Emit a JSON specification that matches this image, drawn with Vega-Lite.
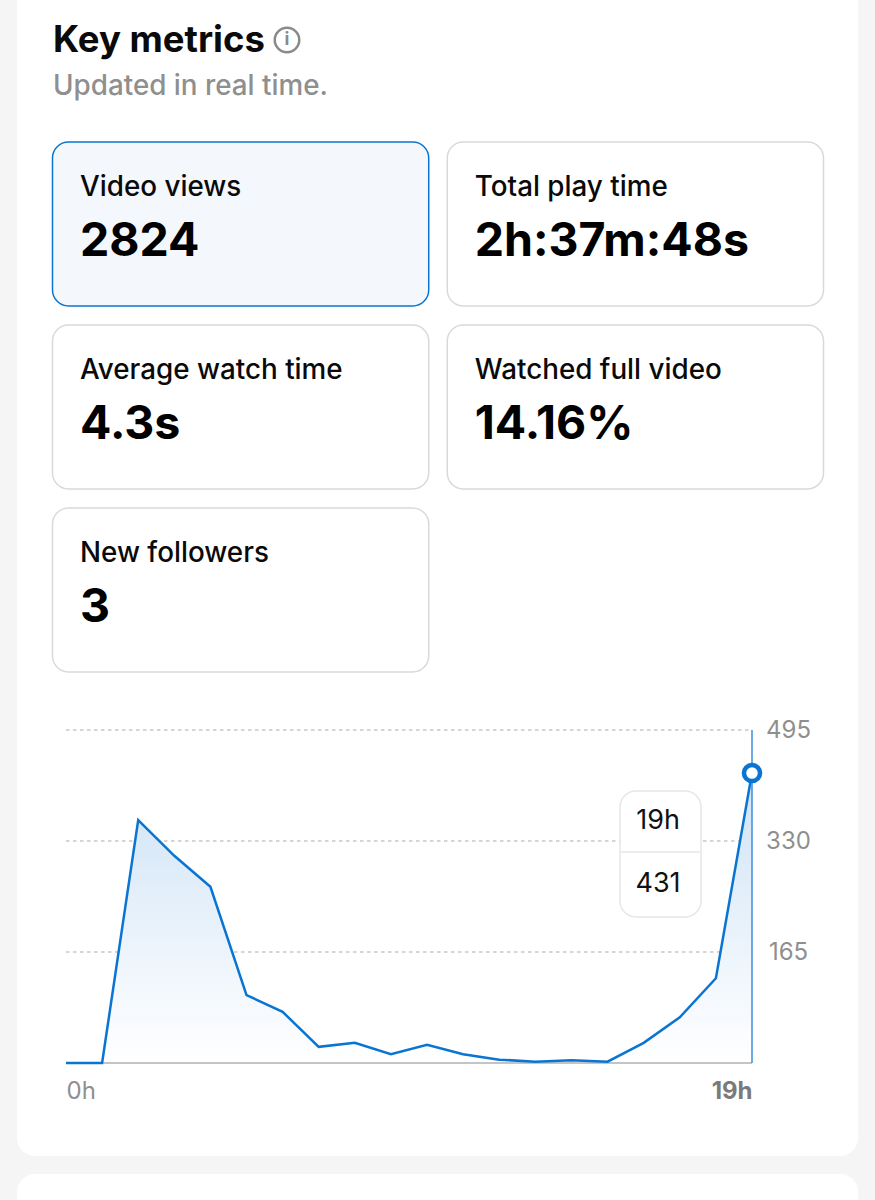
{
"$schema":"https://vega.github.io/schema/vega-lite/v6.json",
"width":875,"height":1200,"padding":0,"autosize":{"type":"none"},"background":"#f5f5f5",
"config":{"view":{"stroke":null},"font":"Inter","axis":{"labelFont":"Inter"}},
"datasets":{
"cards":[
{"metric":"Video views","value":"2824","col":"left","row":"r1","state":"selected"},
{"metric":"Total play time","value":"2h:37m:48s","col":"right","row":"r1","state":"normal"},
{"metric":"Average watch time","value":"4.3s","col":"left","row":"r2","state":"normal"},
{"metric":"Watched full video","value":"14.16%","col":"right","row":"r2","state":"normal"},
{"metric":"New followers","value":"3","col":"left","row":"r3","state":"normal"}],
"series":[{"hour":0,"views":0},{"hour":1,"views":0},{"hour":2,"views":361},{"hour":3,"views":308},{"hour":4,"views":262},{"hour":5,"views":101},{"hour":6,"views":76},{"hour":7,"views":24},{"hour":8,"views":30},{"hour":9,"views":13},{"hour":10,"views":27},{"hour":11,"views":13},{"hour":12,"views":5},{"hour":13,"views":2},{"hour":14,"views":4},{"hour":15,"views":2},{"hour":16,"views":30},{"hour":17,"views":68},{"hour":18,"views":126},{"hour":19,"views":431}],
"ticks":[{"tick":165},{"tick":330},{"tick":495}],
"tip":[{"line":"hour","label":"19h"},{"line":"views","label":"431"}]
},
"layer":[
{"data":{"values":[{"panel":"a"}]},"mark":{"type":"rect","fill":"white","cornerRadius":18},
 "encoding":{"x":{"field":"panel","type":"nominal","axis":null,"scale":{"type":"band","range":[17,858],"padding":0}},"y":{"field":"panel","type":"nominal","axis":null,"scale":{"type":"band","range":[-30,1156],"padding":0}}}},
{"data":{"values":[{"panel":"b"}]},"mark":{"type":"rect","fill":"white","cornerRadius":18},
 "encoding":{"x":{"field":"panel","type":"nominal","axis":null,"scale":{"type":"band","range":[17,858],"padding":0}},"y":{"field":"panel","type":"nominal","axis":null,"scale":{"type":"band","range":[1174,1260],"padding":0}}}},
{"data":{"values":[{"t":"Key metrics"}]},"mark":{"type":"text","align":"left","baseline":"middle","fontSize":36.5,"fontWeight":700,"color":"#0a0a0a"},
 "encoding":{"text":{"field":"t"},"x":{"field":"t","type":"nominal","axis":null,"scale":{"type":"band","range":[53,300],"padding":0},"bandPosition":0},"y":{"field":"t","type":"nominal","axis":null,"scale":{"type":"band","range":[21,61],"padding":0}}}},
{"data":{"values":[{"t":"info"}]},"mark":{"type":"point","shape":"circle","size":600,"stroke":"#8a8a8a","strokeWidth":2.5,"filled":false,"opacity":1},
 "encoding":{"x":{"field":"t","type":"nominal","axis":null,"scale":{"type":"band","range":[270,304],"padding":0}},"y":{"field":"t","type":"nominal","axis":null,"scale":{"type":"band","range":[20,60],"padding":0}}}},
{"data":{"values":[{"t":"i"}]},"mark":{"type":"text","align":"center","baseline":"middle","fontSize":18,"fontWeight":700,"color":"#8a8a8a"},
 "encoding":{"text":{"field":"t"},"x":{"field":"t","type":"nominal","axis":null,"scale":{"type":"band","range":[270,304],"padding":0}},"y":{"field":"t","type":"nominal","axis":null,"scale":{"type":"band","range":[20,60],"padding":0}}}},
{"data":{"values":[{"t":"Updated in real time."}]},"mark":{"type":"text","align":"left","baseline":"middle","fontSize":27.8,"fontWeight":500,"color":"#8f8f8f"},
 "encoding":{"text":{"field":"t"},"x":{"field":"t","type":"nominal","axis":null,"scale":{"type":"band","range":[53,340],"padding":0},"bandPosition":0},"y":{"field":"t","type":"nominal","axis":null,"scale":{"type":"band","range":[67,107],"padding":0}}}},
{"data":{"name":"cards"},"mark":{"type":"rect","cornerRadius":16,"strokeWidth":1.5},
 "encoding":{"x":{"field":"col","type":"nominal","axis":null,"scale":{"type":"band","domain":["left","right"],"range":[52.5,823.5],"paddingInner":0.047,"paddingOuter":0}},"y":{"field":"row","type":"nominal","axis":null,"scale":{"type":"band","domain":["r1","r2","r3"],"range":[142,672],"paddingInner":0.104,"paddingOuter":0}},
 "fill":{"field":"state","type":"nominal","legend":null,"scale":{"domain":["selected","normal"],"range":["#f4f8fc","#ffffff"]}},
 "stroke":{"field":"state","type":"nominal","legend":null,"scale":{"domain":["selected","normal"],"range":["#0a76d0","#d9d9d9"]}}}},
{"data":{"name":"cards"},"mark":{"type":"text","align":"left","baseline":"middle","xOffset":27.5,"fontSize":27.8,"fontWeight":500,"color":"#0a0a0a"},
 "encoding":{"text":{"field":"metric"},"x":{"field":"col","type":"nominal","axis":null,"bandPosition":0,"scale":{"type":"band","domain":["left","right"],"range":[52.5,823.5],"paddingInner":0.047,"paddingOuter":0}},"y":{"field":"row","type":"nominal","axis":null,"bandPosition":0.28,"scale":{"type":"band","domain":["r1","r2","r3"],"range":[142,672],"paddingInner":0.104,"paddingOuter":0}}}},
{"data":{"name":"cards"},"mark":{"type":"text","align":"left","baseline":"middle","xOffset":27.5,"fontSize":46.5,"fontWeight":700,"color":"#000000"},
 "encoding":{"text":{"field":"value"},"x":{"field":"col","type":"nominal","axis":null,"bandPosition":0,"scale":{"type":"band","domain":["left","right"],"range":[52.5,823.5],"paddingInner":0.047,"paddingOuter":0}},"y":{"field":"row","type":"nominal","axis":null,"bandPosition":0.61,"scale":{"type":"band","domain":["r1","r2","r3"],"range":[142,672],"paddingInner":0.104,"paddingOuter":0}}}},
{"data":{"name":"ticks"},"mark":{"type":"rule","color":"#ababab","strokeDash":[3.5,3.5],"strokeWidth":1},
 "encoding":{"y":{"field":"tick","type":"quantitative","title":null,"scale":{"domain":[0,495],"range":[1063,730],"nice":false},"axis":{"orient":"right","zindex":1,"values":[165,330,495],"offset":-87,"labelAlign":"center","labelPadding":0,"ticks":false,"grid":false,"domain":false,"labelFontSize":24,"labelColor":"#8f8f8f"}},"x":{"datum":0,"scale":{"domain":[0,19],"range":[66,752],"nice":false},"title":null,"axis":{"zindex":1,"values":[0,19],"offset":-137,"labelFlush":true,"labelPadding":16,"ticks":false,"grid":false,"domain":false,"labelFontSize":24,"labelColor":{"condition":{"test":"datum.value == 19","value":"#7a7a7a"},"value":"#8f8f8f"},"labelFontWeight":{"condition":{"test":"datum.value == 19","value":700},"value":400},"labelExpr":"datum.value + 'h'"}},"x2":{"datum":19}}},
{"data":{"name":"series"},"mark":{"type":"area","color":{"gradient":"linear","x1":0,"y1":0,"x2":0,"y2":1,"stops":[{"offset":0,"color":"#cfe3f6"},{"offset":1,"color":"#ffffff"}]}},
 "encoding":{"x":{"field":"hour","type":"quantitative","axis":null,"scale":{"domain":[0,19],"range":[66,752],"nice":false}},"y":{"field":"views","type":"quantitative","axis":null,"scale":{"domain":[0,495],"range":[1063,730],"nice":false}}}},
{"data":{"values":[{"base":0}]},"mark":{"type":"rule","color":"#c4c4c4","strokeWidth":2},
 "encoding":{"y":{"field":"base","type":"quantitative","axis":null,"scale":{"domain":[0,495],"range":[1063,730],"nice":false}},"x":{"datum":0,"axis":null,"scale":{"domain":[0,19],"range":[66,752],"nice":false}},"x2":{"datum":19}}},
{"data":{"name":"series"},"mark":{"type":"line","color":"#0a74d2","strokeWidth":2.5},
 "encoding":{"x":{"field":"hour","type":"quantitative","axis":null,"scale":{"domain":[0,19],"range":[66,752],"nice":false}},"y":{"field":"views","type":"quantitative","axis":null,"scale":{"domain":[0,495],"range":[1063,730],"nice":false}}}},
{"data":{"values":[{"hour":19,"views":431}]},"mark":{"type":"rule","color":"#3b8edb","strokeWidth":1.5},
 "encoding":{"x":{"field":"hour","type":"quantitative","axis":null,"scale":{"domain":[0,19],"range":[66,752],"nice":false}},"y":{"datum":0,"axis":null,"scale":{"domain":[0,495],"range":[1063,730],"nice":false}},"y2":{"datum":495}}},
{"data":{"values":[{"hour":19,"views":431}]},"mark":{"type":"point","filled":true,"fill":"white","stroke":"#0a74d2","strokeWidth":4.5,"size":260,"opacity":1},
 "encoding":{"x":{"field":"hour","type":"quantitative","axis":null,"scale":{"domain":[0,19],"range":[66,752],"nice":false}},"y":{"field":"views","type":"quantitative","axis":null,"scale":{"domain":[0,495],"range":[1063,730],"nice":false}}}},
{"data":{"values":[{"box":"tip"}]},"mark":{"type":"rect","fill":"white","stroke":"#e6e6e6","strokeWidth":1.5,"cornerRadius":16},
 "encoding":{"x":{"field":"box","type":"nominal","axis":null,"scale":{"type":"band","range":[620,701],"padding":0}},"y":{"field":"box","type":"nominal","axis":null,"scale":{"type":"band","range":[791,917],"padding":0}}}},
{"data":{"values":[{"box":"tip"}]},"mark":{"type":"rule","stroke":"#e6e6e6","strokeWidth":1.5},
 "encoding":{"x":{"datum":15.35,"axis":null,"scale":{"domain":[0,19],"range":[66,752],"nice":false}},"x2":{"datum":17.55},"y":{"datum":313.6,"axis":null,"scale":{"domain":[0,495],"range":[1063,730],"nice":false}}}},
{"data":{"name":"tip"},"mark":{"type":"text","align":"center","baseline":"middle","fontSize":27,"color":"#111111"},
 "encoding":{"text":{"field":"label"},"x":{"field":"line","type":"nominal","axis":null,"scale":{"type":"point","range":[658,658]}},"y":{"field":"line","type":"nominal","axis":null,"scale":{"type":"band","domain":["hour","views"],"range":[790,915],"padding":0}}}}
],
"resolve":{"scale":{"x":"independent","y":"independent","fill":"independent","stroke":"independent"},"axis":{"x":"independent","y":"independent"}}
}
